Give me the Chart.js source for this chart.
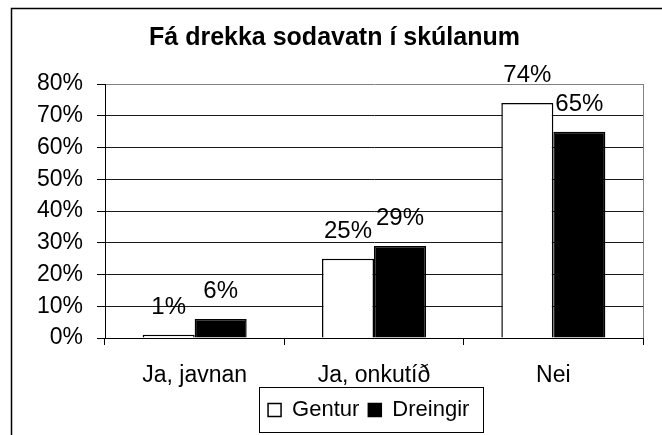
<!DOCTYPE html>
<html>
<head>
<meta charset="utf-8">
<script src="https://cdn.jsdelivr.net/npm/chart.js@4/dist/chart.umd.min.js"></script>
<style>
  html, body { margin: 0; padding: 0; background: #fff; }
  #wrap { width: 662px; height: 435px; }
</style>
</head>
<body>
<div id="wrap"><canvas id="chart" width="662" height="435"></canvas></div>
<script>
// data
const categories = ['Ja, javnan', 'Ja, onkutíð', 'Nei'];
const gentur = [1, 25, 74];     // %
const dreingir = [6, 29, 65];   // %
const seriesNames = ['Gentur', 'Dreingir'];
const yMax = 80;
const yStep = 10;
const titleText = 'Fá drekka sodavatn í skúlanum';

const FONT = "'Liberation Sans', Arial, sans-serif";
Chart.defaults.font.family = FONT;
Chart.defaults.color = '#000';

// frame, plot border, value labels, legend box
const extras = {
    id: 'extras',
    afterLayout(chart) {
        // legend sits under the middle of the plot, not the canvas
        const lg = chart.legend;
        const target = 368.7;
        const shift = target - (lg.left + lg.right) / 2;
        lg.left += shift;
        lg.right += shift;
    },
    beforeDraw(chart) {
        const ctx = chart.ctx;
        ctx.save();
        ctx.strokeStyle = '#000';
        ctx.lineWidth = 1.5;
        ctx.strokeRect(11.5, 8.5, 800, 600);
        ctx.restore();
    },
    afterDatasetsDraw(chart) {
        const ctx = chart.ctx;
        const area = chart.chartArea;
        ctx.save();
        // right edge of plot
        ctx.strokeStyle = '#808080';
        ctx.lineWidth = 1;
        ctx.beginPath();
        ctx.moveTo(Math.round(area.right) + 0.5, area.top);
        ctx.lineTo(Math.round(area.right) + 0.5, area.bottom);
        ctx.stroke();

        // value labels
        ctx.fillStyle = '#000';
        ctx.font = '24px ' + FONT;
        ctx.textAlign = 'center';
        ctx.textBaseline = 'alphabetic';
        chart.data.datasets.forEach((ds, i) => {
            chart.getDatasetMeta(i).data.forEach((bar, j) => {
                ctx.fillText(ds.data[j] + '%', bar.x, bar.y - 21);
            });
        });
        ctx.restore();
    },
    afterDraw(chart) {
        const boxes = chart.legend.legendHitBoxes;
        if (!boxes || !boxes.length) return;
        const first = boxes[0];
        const last = boxes[boxes.length - 1];
        const ctx = chart.ctx;
        const l = Math.round(first.left - 9) + 0.5;
        const r = Math.round(last.left + last.width + 14) + 0.5;
        const t = Math.round(first.top - 12) + 0.5;
        const b = Math.round(first.top + first.height + 11) + 0.5;
        ctx.save();
        ctx.strokeStyle = '#000';
        ctx.lineWidth = 1;
        ctx.strokeRect(l, t, r - l, b - t);
        ctx.restore();
    }
};

new Chart(document.getElementById('chart'), {
    type: 'bar',
    data: {
        labels: categories,
        datasets: [
            {
                label: seriesNames[0],
                data: gentur,
                backgroundColor: '#fff',
                borderColor: '#000',
                borderWidth: 1.5
            },
            {
                label: seriesNames[1],
                data: dreingir,
                backgroundColor: '#000',
                borderColor: '#000',
                borderWidth: 1.5
            }
        ]
    },
    options: {
        responsive: false,
        animation: false,
        layout: { padding: { left: 26, right: 19, top: 0, bottom: 4 } },
        datasets: {
            bar: { categoryPercentage: 0.58, barPercentage: 1 }
        },
        plugins: {
            title: {
                display: true,
                text: titleText,
                color: '#000',
                font: { size: 25, weight: 'bold', family: FONT },
                padding: { top: 23, bottom: 31 }
            },
            legend: {
                display: true,
                position: 'bottom',
                labels: {
                    color: '#000',
                    font: { size: 22, family: FONT },
                    boxWidth: 13,
                    boxHeight: 13,
                    padding: 9
                }
            },
            tooltip: { enabled: false }
        },
        scales: {
            x: {
                afterFit(scale) { scale.height = 52; },
                grid: {
                    display: true,
                    drawOnChartArea: false,
                    offset: true,
                    tickLength: 7,
                    color: '#000',
                    tickColor: '#000'
                },
                border: { display: true, color: '#000', width: 1 },
                ticks: {
                    color: '#000',
                    font: { size: 23, family: FONT },
                    padding: 16.5,
                    maxRotation: 0
                }
            },
            y: {
                min: 0,
                max: yMax,
                afterFit(scale) { scale.width = 79; },
                grid: {
                    drawOnChartArea: true,
                    tickLength: 8,
                    color: (c) => c.tick && c.tick.value === yMax ? '#808080' : '#1a1a1a',
                    tickColor: '#000',
                    lineWidth: 1
                },
                border: { display: true, color: '#000', width: 1 },
                ticks: {
                    stepSize: yStep,
                    color: '#000',
                    font: { size: 23, family: FONT },
                    padding: 14,
                    callback: (v) => v + '%'
                }
            }
        }
    },
    plugins: [extras]
});
</script>
</body>
</html>
